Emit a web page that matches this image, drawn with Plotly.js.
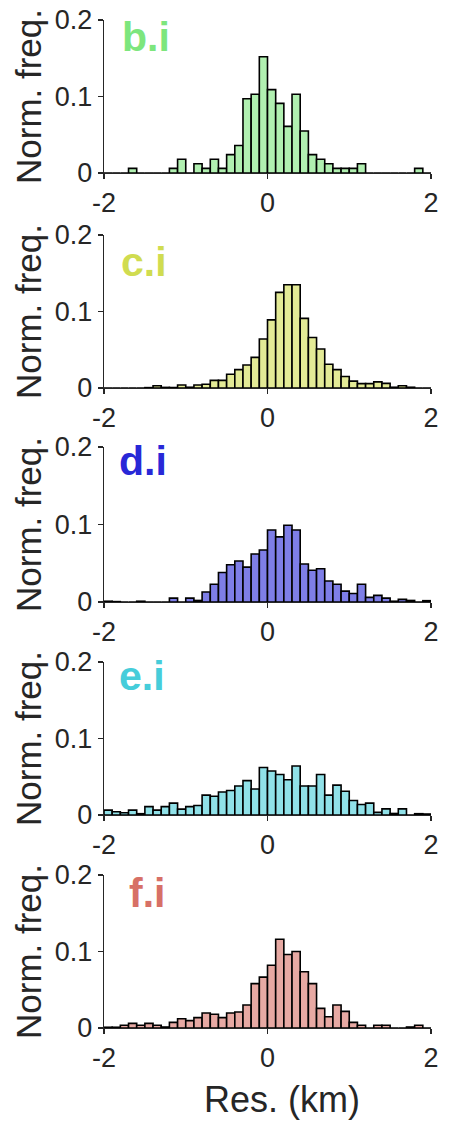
<!DOCTYPE html>
<html>
<head>
<meta charset="utf-8">
<script src="https://cdn.plot.ly/plotly-3.0.1.min.js"></script>
<style>html,body{margin:0;padding:0;background:#fff;}#chart{width:449px;height:1125px;}</style>
</head>
<body>
<div id="chart"></div>
<script>
// Histogram bins: 40 bins of width 0.1 km from -2 to 2
const binStart = -2;
const binWidth = 0.1;

const panelLabels = ["b.i", "c.i", "d.i", "e.i", "f.i"];
const labelColors = ["rgb(125,230,125)", "rgb(208,220,80)", "rgb(40,40,215)", "rgb(70,205,218)", "rgb(215,112,102)"];
const barColors = ["rgb(177,240,177)", "rgb(227,234,150)", "rgb(126,126,231)", "rgb(144,225,232)", "rgb(231,169,163)"];

const freqB = [0,0,0,0.006,0,0,0,0,0.006,0.018,0,0.012,0.006,0.018,0.006,0.024,0.036,0.097,0.103,0.152,
               0.109,0.091,0.061,0.103,0.055,0.024,0.018,0.012,0.006,0.006,0.006,0.012,0,0,0,0,0,0,0.006,0];
const freqC = [0,0,0,0,0,0.0005,0.003,0.0008,0.0006,0.004,0.001,0.004,0.005,0.010,0.010,0.018,0.024,0.030,0.040,0.064,
               0.089,0.125,0.135,0.135,0.091,0.066,0.051,0.031,0.024,0.015,0.009,0.0057,0.0057,0.008,0.006,0.001,0.003,0.001,0,0];
const freqD = [0.001,0.0005,0,0,0.001,0,0,0,0.005,0,0.005,0.002,0.013,0.023,0.038,0.048,0.053,0.045,0.062,0.067,
               0.093,0.084,0.099,0.093,0.049,0.041,0.043,0.027,0.023,0.014,0.011,0.023,0.006,0.0086,0.005,0.001,0.0034,0.002,0,0.0017];
const freqE = [0.0064,0.0043,0.003,0.0064,0.0017,0.011,0.0064,0.011,0.0155,0.0077,0.011,0.0124,0.026,0.0245,0.030,0.032,0.038,0.045,0.034,0.062,
               0.0575,0.053,0.046,0.064,0.038,0.038,0.053,0.026,0.039,0.031,0.019,0.0137,0.0155,0.0034,0.008,0.002,0.008,0,0.0017,0.0013];
const freqF = [0.001,0.001,0.0035,0.006,0.0035,0.006,0.0035,0.0013,0.0074,0.012,0.0096,0.0135,0.0196,0.018,0.0135,0.0196,0.021,0.030,0.058,0.0665,
               0.082,0.116,0.096,0.100,0.0735,0.058,0.0257,0.0148,0.030,0.0217,0.0074,0.0035,0,0.0035,0.0035,0,0,0.0013,0.0035,0];
const series = [freqB, freqC, freqD, freqE, freqF];

const xTickVals = [-2, 0, 2];
const xTickText = ["-2", "0", "2"];
const yTickVals = [0, 0.1, 0.2];
const yTickText = ["0", "0.1", "0.2"];
const xTitle = "Res. (km)";
const yTitle = "Norm. freq.";

const W = 449, H = 1125;
const plotLeft = 104, plotRight = 431;
const panelTops = [20, 235, 447, 662, 875];
const panelBottoms = [173, 388, 602, 815, 1028];
const labelX = [-1.81, -1.82, -1.84, -1.84, -1.72];
const labelY = [0.178, 0.165, 0.182, 0.182, 0.177];

const axisColor = "#262626";
const font = "Liberation Sans, Arial, sans-serif";

const traces = [];
const layout = {
  width: W, height: H,
  margin: {l: 0, r: 0, t: 0, b: 0},
  paper_bgcolor: "#fff", plot_bgcolor: "#fff",
  showlegend: false,
  bargap: 0,
  font: {family: font, color: axisColor},
  annotations: []
};

series.forEach((vals, i) => {
  const n = i === 0 ? "" : String(i + 1);
  const centers = vals.map((_, k) => binStart + binWidth * (k + 0.5));
  traces.push({
    type: "bar",
    x: centers,
    y: vals,
    width: binWidth,
    xaxis: "x" + n,
    yaxis: "y" + n,
    marker: {color: barColors[i], line: {color: "#000", width: 1.6}},
    hoverinfo: "x+y"
  });
  layout["xaxis" + n] = {
    domain: [plotLeft / W, plotRight / W],
    anchor: "y" + n,
    range: [-2, 2],
    tickvals: xTickVals,
    ticktext: xTickText,
    ticks: "outside", ticklen: 5, tickwidth: 1.2, tickcolor: axisColor,
    showline: true, linecolor: axisColor, linewidth: 1.2,
    showgrid: false, zeroline: false,
    tickfont: {size: 27, color: axisColor, family: font},
    fixedrange: true
  };
  layout["yaxis" + n] = {
    domain: [1 - panelBottoms[i] / H, 1 - panelTops[i] / H],
    anchor: "x" + n,
    range: [0, 0.2],
    tickvals: yTickVals,
    ticktext: yTickText,
    ticks: "outside", ticklen: 5, tickwidth: 1.2, tickcolor: axisColor,
    showline: true, linecolor: axisColor, linewidth: 1.2,
    showgrid: false, zeroline: false,
    tickfont: {size: 27, color: axisColor, family: font},
    title: {text: yTitle, font: {size: 35, color: axisColor, family: font}, standoff: 2},
    fixedrange: true
  };
  layout.annotations.push({
    text: "<b>" + panelLabels[i] + "</b>",
    xref: "x" + n, yref: "y" + n,
    x: labelX[i], y: labelY[i],
    xanchor: "left", yanchor: "middle",
    showarrow: false,
    font: {size: 41, color: labelColors[i], family: font}
  });
});

layout.annotations.push({
  text: xTitle,
  xref: "paper", yref: "paper",
  x: 282 / W, y: 1 - 1099 / H,
  xanchor: "center", yanchor: "middle",
  showarrow: false,
  font: {size: 36, color: axisColor, family: font}
});

Plotly.newPlot("chart", traces, layout, {displayModeBar: false, staticPlot: true});
</script>
</body>
</html>
